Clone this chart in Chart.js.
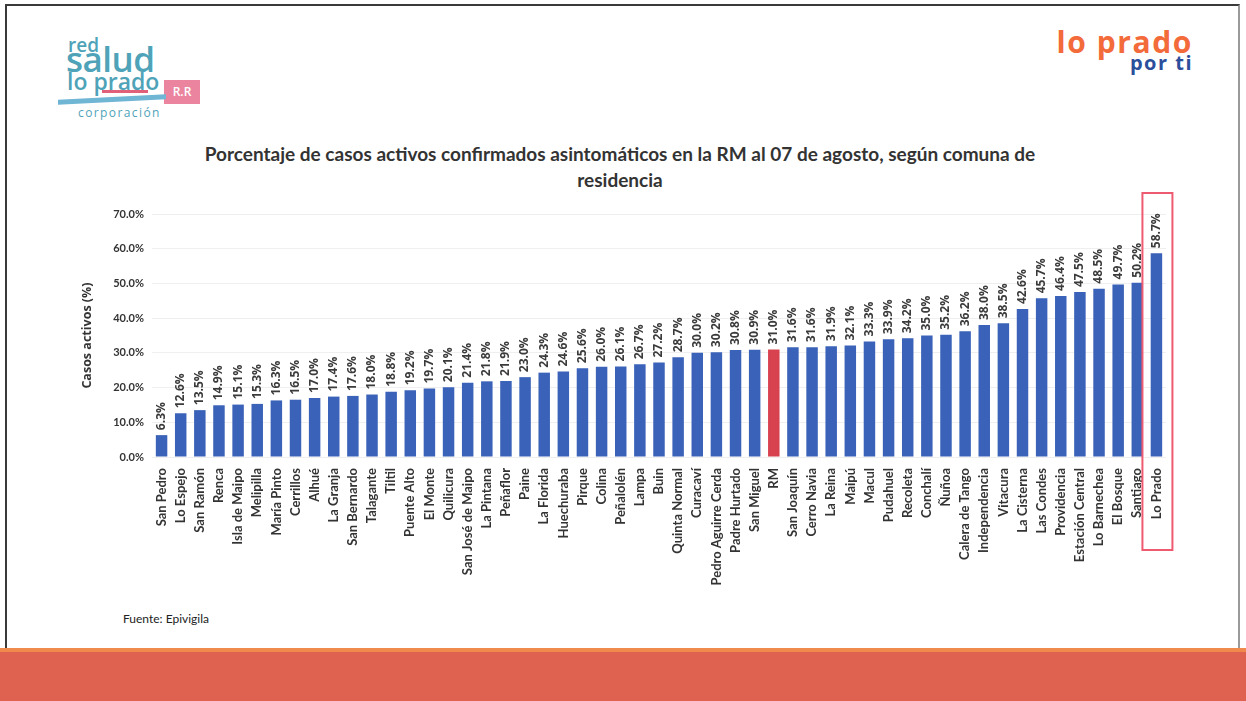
<!DOCTYPE html>
<html lang="es">
<head>
<meta charset="utf-8">
<title>Casos activos asintomáticos por comuna</title>
<script src="https://cdn.jsdelivr.net/npm/chart.js@4.4.1/dist/chart.umd.min.js"></script>
<style>
  html, body { margin: 0; padding: 0; background: #fff; }
  body { width: 1246px; height: 701px; position: relative; overflow: hidden; font-family: Lato, "Open Sans", sans-serif; }
  .frame { position: absolute; left: 5px; top: 4px; width: 1235px; height: 700px; border: 2px solid #3a3a3a; border-bottom: none; border-right-color: #9a9a9a; box-sizing: border-box; }
  .logo-left { position: absolute; left: 66px; top: 34px; width: 140px; height: 90px; color: #4fa3b8; font-family: "Open Sans", sans-serif; font-weight: 600; line-height: 1; white-space: nowrap; }
  .logo-left span { position: absolute; }
  .logo-left .red { font-size: 19px; left: 2px; top: 2px; }
  .logo-left .salud { font-size: 35px; left: 0; top: 7px; letter-spacing: -0.5px; }
  .logo-left .lp { font-size: 23px; left: 1px; top: 36px; letter-spacing: 0px; }
  .logo-left .box { position: absolute; left: 98px; top: 46px; width: 36px; height: 24px; background: #e8708f; opacity: 0.85; color: #fff; font-size: 12px; text-align: center; line-height: 24px; }
  .logo-left .bar1 { position: absolute; left: 36px; top: 56px; width: 46px; height: 3px; background: #e0607a; }
  .logo-left .bar2 { position: absolute; left: -8px; top: 63px; width: 108px; height: 5px; background: #6fb5d4; transform: skewY(-3deg); }
  .logo-left .corp { font-size: 12px; left: 12px; top: 73px; letter-spacing: 1.4px; font-weight: 400; }
  .logo-right { position: absolute; right: 53px; top: 27px; text-align: right; font-family: "Open Sans", sans-serif; font-weight: 700; line-height: 1; white-space: nowrap; }
  .logo-right .a { color: #f36a3b; font-size: 30px; letter-spacing: 1.6px; }
  .logo-right .b { color: #2c4f9c; font-size: 20px; letter-spacing: 1.5px; margin-top: -4px; }
  .title { position: absolute; left: 100px; width: 1040px; top: 141px; text-align: center; font-weight: 700; font-size: 19px; color: #333; line-height: 26px; }
  .source { position: absolute; left: 123px; top: 611px; font-size: 12px; color: #222; }
  .band { position: absolute; left: 0; top: 648px; width: 1246px; height: 53px; background: #df6150; border-top: 4px solid #f08a4c; box-sizing: border-box; }
  #wrap { position: absolute; left: 70px; top: 190px; width: 1110px; height: 418px; }
</style>
</head>
<body>
<div class="frame"></div>
<div class="logo-left">
  <span class="red">red</span>
  <span class="salud">salud</span>
  <span class="lp">lo prado</span>
  <div class="box">R.R</div>
  <div class="bar1"></div>
  <div class="bar2"></div>
  <span class="corp">corporación</span>
</div>
<div class="logo-right">
  <div class="a">lo prado</div>
  <div class="b">por ti</div>
</div>
<div class="title">Porcentaje de casos activos confirmados asintomáticos en la RM al 07 de agosto, según comuna de<br>residencia</div>
<div id="wrap"><canvas id="barChart"></canvas></div>
<div class="source">Fuente: Epivigila</div>
<div class="band"></div>

<script>
const comunas = [
  'San Pedro', 'Lo Espejo', 'San Ramón', 'Renca', 'Isla de Maipo', 'Melipilla',
  'María Pinto', 'Cerrillos', 'Alhué', 'La Granja', 'San Bernardo', 'Talagante',
  'Tiltil', 'Puente Alto', 'El Monte', 'Quilicura', 'San José de Maipo', 'La Pintana',
  'Peñaflor', 'Paine', 'La Florida', 'Huechuraba', 'Pirque', 'Colina', 'Peñalolén',
  'Lampa', 'Buin', 'Quinta Normal', 'Curacaví', 'Pedro Aguirre Cerda', 'Padre Hurtado',
  'San Miguel', 'RM', 'San Joaquín', 'Cerro Navia', 'La Reina', 'Maipú', 'Macul',
  'Pudahuel', 'Recoleta', 'Conchalí', 'Ñuñoa', 'Calera de Tango', 'Independencia',
  'Vitacura', 'La Cisterna', 'Las Condes', 'Providencia', 'Estación Central',
  'Lo Barnechea', 'El Bosque', 'Santiago', 'Lo Prado'
];
const porcentajes = [
  6.3, 12.6, 13.5, 14.9, 15.1, 15.3,
  16.3, 16.5, 17.0, 17.4, 17.6, 18.0,
  18.8, 19.2, 19.7, 20.1, 21.4, 21.8,
  21.9, 23.0, 24.3, 24.6, 25.6, 26.0, 26.1,
  26.7, 27.2, 28.7, 30.0, 30.2, 30.8,
  30.9, 31.0, 31.6, 31.6, 31.9, 32.1, 33.3,
  33.9, 34.2, 35.0, 35.2, 36.2, 38.0,
  38.5, 42.6, 45.7, 46.4, 47.5,
  48.5, 49.7, 50.2, 58.7
];
const yTicks = [0, 10, 20, 30, 40, 50, 60, 70];
const regionLabel = 'RM';
const highlighted = 'Lo Prado';

const blue = '#3a62b8';
const red = '#d8424f';
const barColors = comunas.map(c => c === regionLabel ? red : blue);

// values written vertically above each bar
const barValues = {
  id: 'barValues',
  afterDatasetsDraw(chart) {
    const ctx = chart.ctx;
    const meta = chart.getDatasetMeta(0);
    ctx.save();
    ctx.font = 'bold 12px "Open Sans", sans-serif';
    ctx.fillStyle = '#3b3b3b';
    ctx.textAlign = 'left';
    ctx.textBaseline = 'middle';
    meta.data.forEach((bar, i) => {
      ctx.save();
      ctx.translate(bar.x, bar.y - 5);
      ctx.rotate(-Math.PI / 2);
      ctx.fillText(porcentajes[i].toFixed(1) + '%', 0, 0);
      ctx.restore();
    });
    ctx.restore();
  }
};

// red outline around the highlighted comuna
const highlightBox = {
  id: 'highlightBox',
  afterDraw(chart) {
    const i = comunas.indexOf(highlighted);
    const x = chart.scales.x.getPixelForValue(i);
    const { top, bottom } = chart.chartArea;
    const ctx = chart.ctx;
    ctx.save();
    ctx.strokeStyle = '#ee5a70';
    ctx.lineWidth = 2;
    ctx.strokeRect(x - 14, top - 21, 30, bottom - top + 114);
    ctx.restore();
  }
};

const ctx = document.getElementById('barChart').getContext('2d');
new Chart(ctx, {
  type: 'bar',
  data: {
    labels: comunas,
    datasets: [{
      label: 'Casos activos (%)',
      data: porcentajes,
      backgroundColor: barColors,
      borderWidth: 0,
      categoryPercentage: 1,
      barPercentage: 0.6
    }]
  },
  options: {
    responsive: true,
    maintainAspectRatio: false,
    animation: false,
    layout: { padding: { top: 24, right: 14, left: 10, bottom: 1 } },
    plugins: {
      legend: { display: false },
      tooltip: { enabled: false }
    },
    scales: {
      x: {
        grid: { display: false },
        border: { display: false },
        ticks: {
          autoSkip: false,
          minRotation: 90,
          maxRotation: 90,
          padding: 3,
          color: '#333',
          font: { family: 'Lato, sans-serif', size: 13, weight: 'bold' }
        },
        afterFit(scale) { scale.height = 150; }
      },
      y: {
        min: 0,
        max: 70,
        afterBuildTicks(scale) { scale.ticks = yTicks.map(v => ({ value: v })); },
        grid: { color: '#efefef', drawTicks: false },
        border: { display: false },
        ticks: {
          padding: 8,
          color: '#333',
          font: { family: 'Lato, sans-serif', size: 11, weight: 'bold' },
          callback: v => v.toFixed(1) + '%'
        },
        title: {
          display: true,
          text: 'Casos activos (%)',
          color: '#333',
          padding: { top: 0, bottom: 4 },
          font: { family: '"Open Sans", sans-serif', size: 12.5, weight: 'bold' }
        },
        afterFit(scale) { scale.width = 72; }
      }
    }
  },
  plugins: [barValues, highlightBox]
});
</script>
</body>
</html>
